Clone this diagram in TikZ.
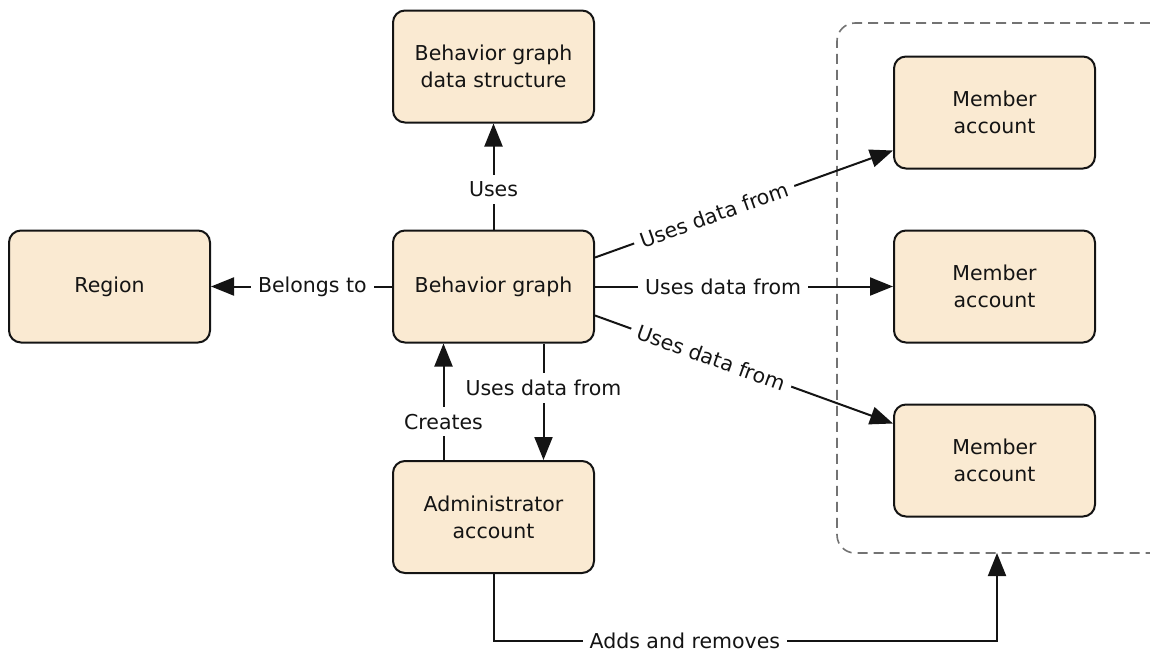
\documentclass[tikz,border=0pt]{standalone}
\usepackage{fontspec}
\setmainfont{DejaVu Sans}
\usetikzlibrary{arrows.meta}

\definecolor{boxfill}{RGB}{250,234,210}
\definecolor{ink}{RGB}{20,20,20}

\begin{document}
\begin{tikzpicture}[x=1pt,y=-1pt]
            \tikzstyle{box}=[draw=ink, fill=boxfill, line width=2pt,
            rounded corners=12pt, minimum width=201pt, minimum height=112pt,
            align=center, text=ink, font=\fontsize{20.5}{27}\selectfont]
            \tikzstyle{lbl}=[fill=white, text=ink, inner sep=7pt,
            font=\fontsize{20.5}{23}\selectfont]
            \tikzstyle{arr}=[draw=ink, line width=2pt,
            -{Triangle[length=23pt,width=18pt]}]
            \useasboundingbox (0,0) rectangle (1150,651);

            % the member accounts
            \draw[black!55, line width=1.6pt, dash pattern=on 10pt off 6pt,
            rounded corners=18pt] (1150,23) -- (837,23) -- (837,553) -- (1150,553);

            \node[box] (ds) at (493.5,66.5) {Behavior graph\\data structure};
            \node[box] (reg) at (109.5,286.5) {Region};
            \node[box] (bg) at (493.5,286.5) {Behavior graph};
            \node[box] (adm) at (493.5,517) {Administrator\\account};

            \node[box] (m1) at (994.5,112.5) {Member\\account};
            \node[box] (m2) at (994.5,286.5) {Member\\account};
            \node[box] (m3) at (994.5,460.5) {Member\\account};

            \draw[arr] (bg) -- node[lbl, pos=0.38] {Uses} (ds);
            \draw[arr] (bg) -- node[lbl, pos=0.44] {Belongs to} (reg);
            \draw[arr] (bg) -- node[lbl, pos=0.43] {Uses data from} (m2);
            \draw[arr] ([yshift=29pt]bg.east) -- node[lbl, sloped, pos=0.4]
                {Uses data from} ([yshift=-38pt]m1.west);
            \draw[arr] ([yshift=-29pt]bg.east) -- node[lbl, sloped, pos=0.39]
                {Uses data from} ([yshift=37pt]m3.west);

            \draw[arr] ([xshift=50pt]bg.south) -- node[lbl, pos=0.38]
                {Uses data from} ([xshift=50pt]adm.north);
            \draw[arr] ([xshift=-50pt]adm.north) -- node[lbl, pos=0.33]
                {Creates} ([xshift=-50pt]bg.south);

            \coordinate (bend) at (997,641);
            \coordinate (grp) at (997,553);
            \draw[arr] (adm.south) |- node[lbl, inner ysep=1pt, pos=0.69]
                {Adds and removes} (bend) -- (grp);
        \end{tikzpicture}
\end{document}
